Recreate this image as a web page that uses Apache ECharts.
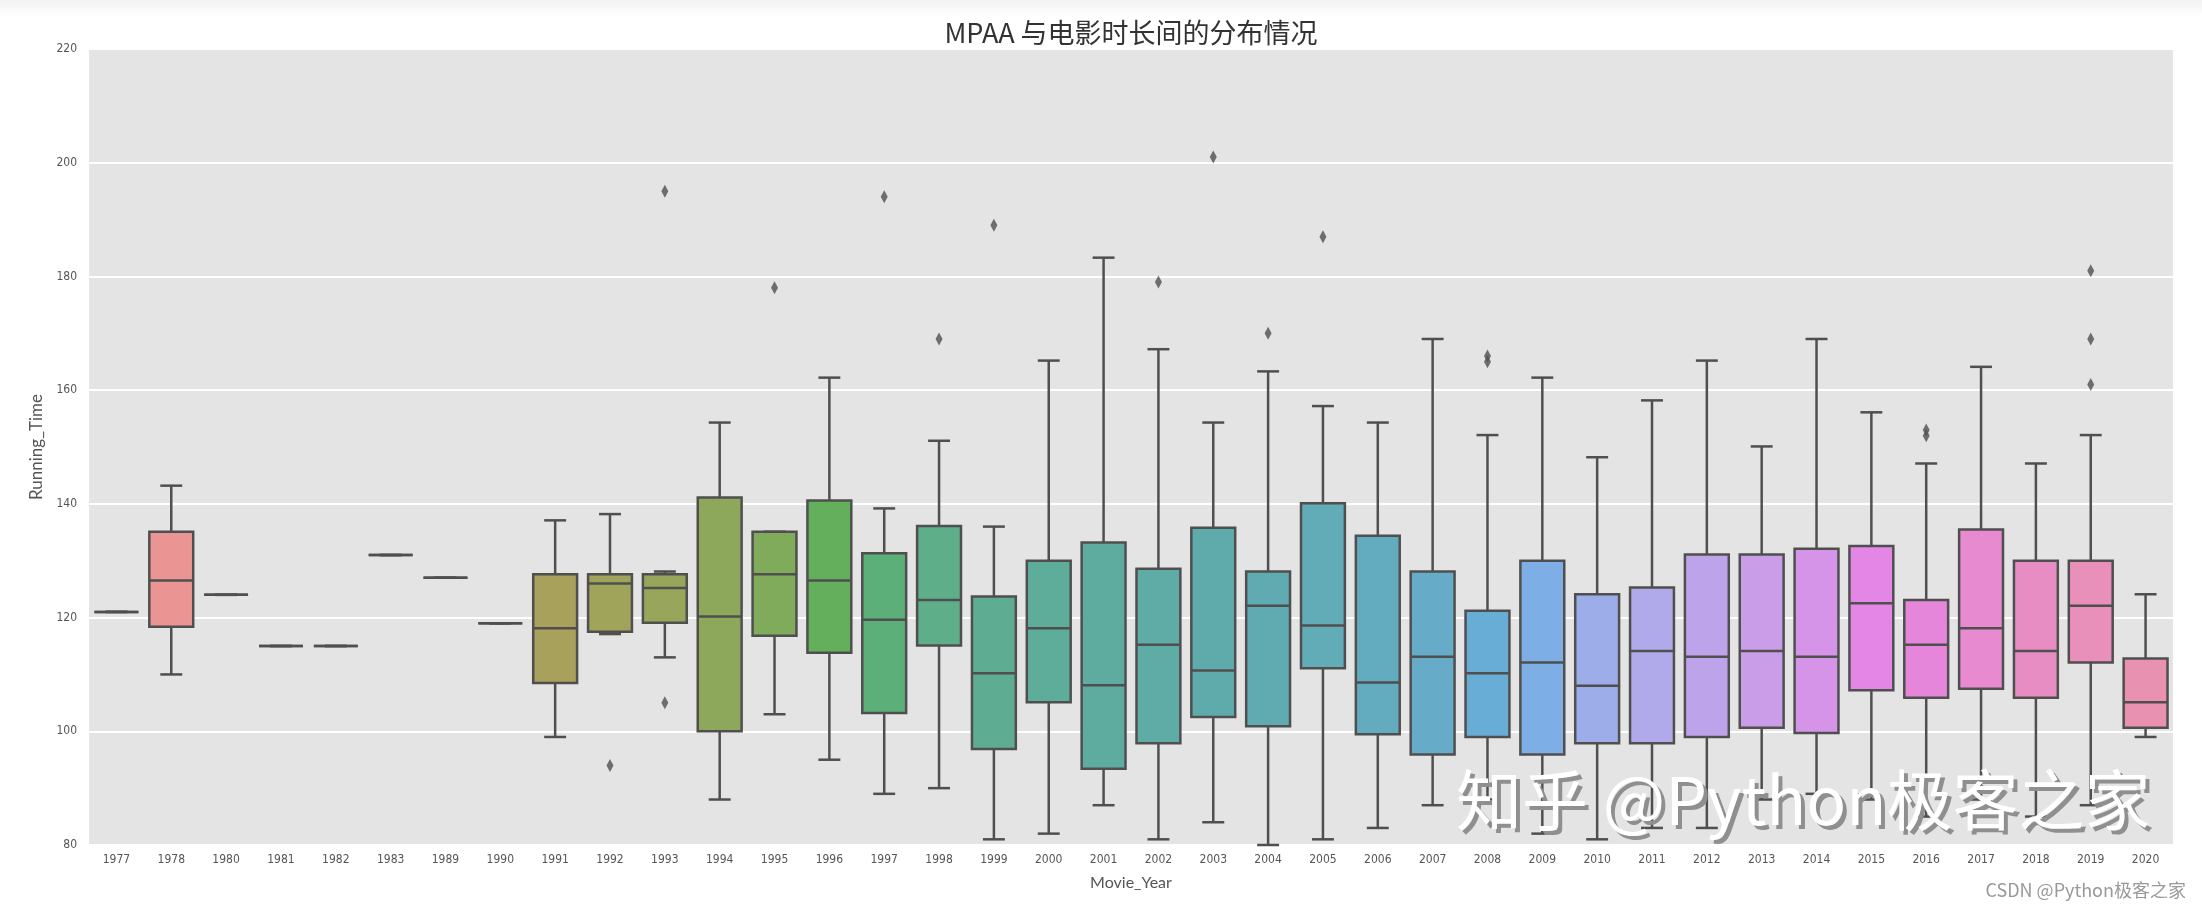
<!DOCTYPE html>
<html>
<head>
<meta charset="utf-8">
<script src="https://cdn.jsdelivr.net/npm/echarts@6/dist/echarts.min.js"></script>
<style>
html,body{margin:0;padding:0;background:#fff;}
#chart{width:2202px;height:912px;}
</style>
</head>
<body>
<div id="chart"></div>
<script>
// ---- data ----
const years = ['1977','1978','1980','1981','1982','1983','1989','1990','1991','1992','1993','1994','1995','1996','1997','1998','1999','2000','2001','2002','2003','2004','2005','2006','2007','2008','2009','2010','2011','2012','2013','2014','2015','2016','2017','2018','2019','2020'];
const whiskerLow  = [121,110,124,115,115,131,127,119, 99,117.1,113,88,103,95,89,90,81,82,87,81,84,80,81,83,87,88,82,81,83,83,88,89,88,85,88,85,87,99];
const q1          = [121,118.4,124,115,115,131,127,119,108.5,117.5,119.1,100,116.8,113.8,103.2,115.1,96.9,105.1,93.4,97.9,102.5,100.9,111.1,99.5,95.9,99,95.9,97.9,97.9,99,100.6,99.7,107.2,105.9,107.5,105.9,112.1,100.6];
const medians     = [121,126.5,124,115,115,131,127,119,118.1,126,125.2,120.2,127.6,126.5,119.6,123.1,110.2,118.1,108.1,115.2,110.7,122.1,118.6,108.6,113.1,110.2,112.1,108,114.1,113.1,114.1,113.1,122.5,115.2,118.1,114.1,122.1,105.1];
const q3          = [121,135.1,124,115,115,131,127,119,127.6,127.6,127.6,141.1,135.1,140.6,131.3,136.1,123.7,130,133.2,128.6,135.8,128.1,140.1,134.4,128.1,121.2,130,124.1,125.3,131.1,131.1,132.1,132.6,123.1,135.5,130,130,112.8];
const whiskerHigh = [121,143.2,124,115,115,131,127,119,137.1,138.2,128.1,154.3,135.1,162.2,139.2,151.1,136,165.2,183.3,167.2,154.3,163.3,157.2,154.3,169,152.1,162.2,148.2,158.2,165.2,150.1,169,156.1,147.1,164.1,147.1,152.1,124.1];
const outlierYears  = ['1992','1993','1993','1995','1997','1998','1999','2002','2003','2004','2005','2008','2008','2016','2016','2019','2019','2019'];
const outlierValues = [94,195,105,178,194,169,189,179,201,170,187,166,165,153,152,181,169,161];
const yTicks = [80,100,120,140,160,180,200,220];

// ---- seaborn-like husl palette ----
const M = [[3.2406,-1.5372,-0.4986],[-0.9689,1.8758,0.0415],[0.0557,-0.2040,1.0570]];
function maxChroma(L,H){
  const hr=H*Math.PI/180, s=Math.sin(hr), c=Math.cos(hr);
  const sub1=Math.pow(L+16,3)/1560896, sub2=sub1>0.008856?sub1:L/903.3;
  let res=Infinity;
  for(const r of M){
    const top=(0.99915*r[0]+1.05122*r[1]+1.14460*r[2])*sub2;
    const rb=0.86330*r[2]-0.17266*r[1], lb=0.12949*r[2]-0.38848*r[0];
    const bottom=(rb*s+lb*c)*sub2;
    for(const t of [0,1]){const C=L*(top-1.05122*t)/(bottom+0.17266*s*t); if(C>0&&C<res)res=C;}
  }
  return res;
}
function huslToRgb(H,S,L){
  const C=maxChroma(L,H)/100*S, hr=H*Math.PI/180;
  const U=Math.cos(hr)*C, V=Math.sin(hr)*C;
  const t=(L+16)/116, varY=Math.pow(t,3)>0.008856?Math.pow(t,3):(116*t-16)/903.3;
  const vu=U/(13*L)+0.19784, vv=V/(13*L)+0.46834;
  const Y=varY, X=-(9*Y*vu)/((vu-4)*vv-vu*vv), Z=(9*Y-15*vv*Y-vv*X)/(3*vv);
  return M.map(r=>{const v=r[0]*X+r[1]*Y+r[2]*Z; const g=v<=0.0031308?12.92*v:1.055*Math.pow(v,1/2.4)-0.055; return Math.min(1,Math.max(0,g));});
}
function rgbToHls(r,g,b){const mx=Math.max(r,g,b),mn=Math.min(r,g,b),l=(mx+mn)/2;if(mx===mn)return[0,l,0];const d=mx-mn;const s=l<=0.5?d/(mx+mn):d/(2-mx-mn);let h;if(r===mx)h=(g-b)/d;else if(g===mx)h=2+(b-r)/d;else h=4+(r-g)/d;h=(h/6)%1;if(h<0)h+=1;return[h,l,s];}
function hlsToRgb(h,l,s){if(s===0)return[l,l,l];const m2=l<=0.5?l*(1+s):l+s-l*s,m1=2*l-m2;const v=(hh)=>{hh=((hh%1)+1)%1;if(hh<1/6)return m1+(m2-m1)*hh*6;if(hh<0.5)return m2;if(hh<2/3)return m1+(m2-m1)*(2/3-hh)*6;return m1;};return[v(h+1/3),v(h),v(h-1/3)];}
const toHex=a=>'#'+a.map(v=>Math.round(Math.min(1,Math.max(0,v))*255).toString(16).padStart(2,'0')).join('');
const n=years.length;
const raw=[];for(let i=0;i<n;i++){const h=((i/n+0.01)%1)*359;raw.push(huslToRgb(h,0.9*99,0.65*99));}
const lineColor='#4f4f4f';
const boxColors=raw.map(c=>{const [h,l,s]=rgbToHls(...c);const d=hlsToRgb(h,l,s*0.75);return toHex(d.map(v=>v*0.86+0.14));});

const boxData=years.map((y,i)=>[i,whiskerLow[i],q1[i],medians[i],q3[i],whiskerHigh[i]]);
const outlierData=outlierYears.map((y,i)=>[y,outlierValues[i]]);

const tickFont="'DejaVu Sans Condensed', Roboto, 'DejaVu Sans', sans-serif";
const chart=echarts.init(document.getElementById('chart'),null,{renderer:'canvas'});
const LW=2.5;
chart.setOption({
  animation:false,
  backgroundColor:'#ffffff',
  grid:{left:89,right:29,top:49,bottom:67,show:true,backgroundColor:'#e4e4e4',borderWidth:0},
  xAxis:{type:'category',data:years,boundaryGap:true,
    name:'Movie_Year',nameLocation:'middle',nameGap:30,
    nameTextStyle:{fontFamily:'Lato',fontSize:16,color:'#555555'},
    axisLine:{show:false},axisTick:{show:false},splitLine:{show:false},
    axisLabel:{interval:0,margin:9,fontFamily:tickFont,fontSize:12,color:'#555555'}},
  yAxis:{type:'value',min:80,max:220,interval:20,
    name:'Running_Time',nameLocation:'middle',nameGap:44,
    nameTextStyle:{fontFamily:'Lato',fontSize:17,color:'#555555'},
    axisLine:{show:false},axisTick:{show:false},
    splitLine:{show:true,lineStyle:{color:'#ffffff',width:2}},
    axisLabel:{margin:12,fontFamily:tickFont,fontSize:12,color:'#555555',
      formatter:v=>yTicks.includes(v)?String(v):''}},
  series:[{
    type:'custom',
    data:boxData,
    encode:{x:0,y:[1,2,3,4,5]},
    renderItem:function(params,api){
      const i=api.value(0);
      const lo=api.coord([i,api.value(1)]), b1=api.coord([i,api.value(2)]),
            md=api.coord([i,api.value(3)]), b3=api.coord([i,api.value(4)]),
            hi=api.coord([i,api.value(5)]);
      const bw=api.size([1,0])[0]*0.8, cx=lo[0], half=bw/2, cap=bw/4;
      const ls={stroke:lineColor,lineWidth:LW};
      return {type:'group',children:[
        {type:'line',shape:{x1:cx,y1:b1[1],x2:cx,y2:lo[1]},style:ls},
        {type:'line',shape:{x1:cx,y1:b3[1],x2:cx,y2:hi[1]},style:ls},
        {type:'line',shape:{x1:cx-cap,y1:lo[1],x2:cx+cap,y2:lo[1]},style:ls},
        {type:'line',shape:{x1:cx-cap,y1:hi[1],x2:cx+cap,y2:hi[1]},style:ls},
        {type:'rect',shape:{x:cx-half,y:b3[1],width:bw,height:b1[1]-b3[1]},
          style:{fill:boxColors[params.dataIndex],stroke:lineColor,lineWidth:LW}},
        {type:'line',shape:{x1:cx-half,y1:md[1],x2:cx+half,y2:md[1]},style:ls}
      ]};
    },
    z:2
  },{
    type:'scatter',
    data:outlierData,
    symbol:'path://M0,-2L1,0L0,2L-1,0Z',
    symbolSize:[7,13],
    itemStyle:{color:lineColor},
    z:3
  }],
  graphic:[
    {type:'rect',left:0,top:0,z:-1,shape:{width:2202,height:16},
      style:{fill:new echarts.graphic.LinearGradient(0,0,0,1,[{offset:0,color:'#f2f2f2'},{offset:1,color:'#ffffff'}])}},
    {type:'text',x:1131,y:33,z:100,
      style:{text:'MPAA 与电影时长间的分布情况',fontFamily:'Noto Sans CJK SC',fontSize:27,fill:'#333333',align:'center',verticalAlign:'middle'}},
    {type:'text',left:1460,top:771,z:100,
      style:{text:'知乎 @Python极客之家',fontFamily:'Noto Sans CJK SC',fontSize:66,fill:'#8f8f8f'}},
    {type:'text',left:1456,top:767,z:101,
      style:{text:'知乎 @Python极客之家',fontFamily:'Noto Sans CJK SC',fontSize:66,fill:'#ffffff'}},
    {type:'text',right:16,top:881,z:100,
      style:{text:'CSDN @Python极客之家',fontFamily:'Noto Sans CJK SC',fontSize:18,fill:'#999999'}}
  ]
});
</script>
</body>
</html>
